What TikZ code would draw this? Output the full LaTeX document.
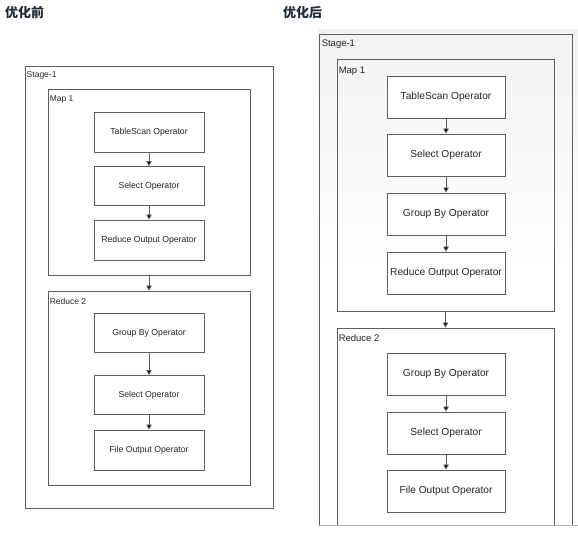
\documentclass[tikz,border=0pt]{standalone}
\usepackage{fontspec}
\setmainfont{Liberation Sans}
\newfontfamily\cjk{Noto Sans CJK SC}
\usetikzlibrary{arrows.meta}
\definecolor{boxgray}{HTML}{5E5E5E}
\definecolor{titlenavy}{HTML}{1E2B3A}
\tikzset{
	opbox/.style={draw=boxgray,line width=0.9pt,fill=white,inner sep=0,minimum width=#1},
	opbox/.default=110pt,
	cbox/.style={draw=boxgray,line width=0.9pt,inner sep=0},
	lbl/.style={anchor=west,inner sep=0,text=black!85,font=\fontsize{8.5}{9}\selectfont},
	flow/.style={draw=boxgray,line width=0.8pt,-{Triangle[length=5pt,width=5.5pt,fill=black]}},
	ttl/.style={anchor=west,inner sep=0,text=titlenavy,font=\cjk\bfseries\fontsize{13}{13}\selectfont}
}

\begin{document}
\begin{tikzpicture}[x=1pt,y=-1pt]
	\useasboundingbox (0,0) rectangle (578,537);
	\node[ttl] (t1) at (5,13) {优化前};
	\node[ttl] (t2) at (283,13) {优化后};

	% before
	\node[cbox,minimum width=248pt,minimum height=442pt] (s1) at (149,287) {};
	\node[cbox,minimum width=202pt,minimum height=186pt] (m1) at (149,182) {};
	\node[cbox,minimum width=202pt,minimum height=194pt] (r1) at (149,388) {};
	\node[lbl] at ([shift={(2pt,-10pt)}]s1.north west) {Stage-1};
	\node[lbl] at ([shift={(2pt,-11pt)}]m1.north west) {Map 1};
	\node[lbl] at ([shift={(2pt,-11pt)}]r1.north west) {Reduce 2};
	\begin{scope}[every node/.style={text=black!85,font=\fontsize{8.7}{9}\selectfont}]
		\node[opbox,minimum height=40pt] (a1) at (149,132) {TableScan Operator};
		\node[opbox,minimum height=39pt] (a2) at (149,186) {Select Operator};
		\node[opbox,minimum height=40pt] (a3) at (149,240) {Reduce Output Operator};
		\node[opbox,minimum height=39pt] (a4) at (149,333) {Group By Operator};
		\node[opbox,minimum height=39pt] (a5) at (149,395) {Select Operator};
		\node[opbox,minimum height=40pt] (a6) at (149,450) {File Output Operator};
	\end{scope}
	\draw[flow] (a1) -- (a2);
	\draw[flow] (a2) -- (a3);
	\draw[flow] (m1) -- (r1);
	\draw[flow] (a4) -- (a5);
	\draw[flow] (a5) -- (a6);

	% after
	\fill[top color=gray!10,bottom color=white,middle color=white] (318,30) rectangle (578,525);
	\begin{scope}
		\clip (316,28) rectangle (578,525);
		\node[cbox,minimum width=253pt,minimum height=526pt] (s2) at (445.5,297) {};
		\node[cbox,minimum width=217pt,minimum height=252pt] (m2) at (445.5,185) {};
		\node[cbox,minimum width=217pt,minimum height=232pt] (r2) at (445.5,444) {};
	\end{scope}
	\node[lbl,font=\fontsize{9.5}{10}\selectfont] at ([shift={(3pt,-11pt)}]s2.north west) {Stage-1};
	\node[lbl,font=\fontsize{9.5}{10}\selectfont] at ([shift={(2pt,-13pt)}]m2.north west) {Map 1};
	\node[lbl,font=\fontsize{9.5}{10}\selectfont] at ([shift={(2pt,-11pt)}]r2.north west) {Reduce 2};
	\begin{scope}[every node/.style={text=black!85,font=\fontsize{10.2}{11}\selectfont}]
		\node[opbox=118pt,minimum height=42pt] (b1) at (446,97) {TableScan Operator};
		\node[opbox=118pt,minimum height=42pt] (b2) at (446,155) {Select Operator};
		\node[opbox=118pt,minimum height=42pt] (b3) at (446,214) {Group By Operator};
		\node[opbox=118pt,minimum height=42pt] (b4) at (446,273) {Reduce Output Operator};
		\node[opbox=118pt,minimum height=42pt] (b5) at (446,374) {Group By Operator};
		\node[opbox=118pt,minimum height=42pt] (b6) at (446,433) {Select Operator};
		\node[opbox=118pt,minimum height=42pt] (b7) at (446,491) {File Output Operator};
	\end{scope}
	\draw[flow] (b1) -- (b2);
	\draw[flow] (b2) -- (b3);
	\draw[flow] (b3) -- (b4);
	\draw[flow] (m2) -- (r2);
	\draw[flow] (b5) -- (b6);
	\draw[flow] (b6) -- (b7);
	\draw[gray!60,line width=0.8pt] (318,525) -- (578,525);
\end{tikzpicture}
\end{document}
